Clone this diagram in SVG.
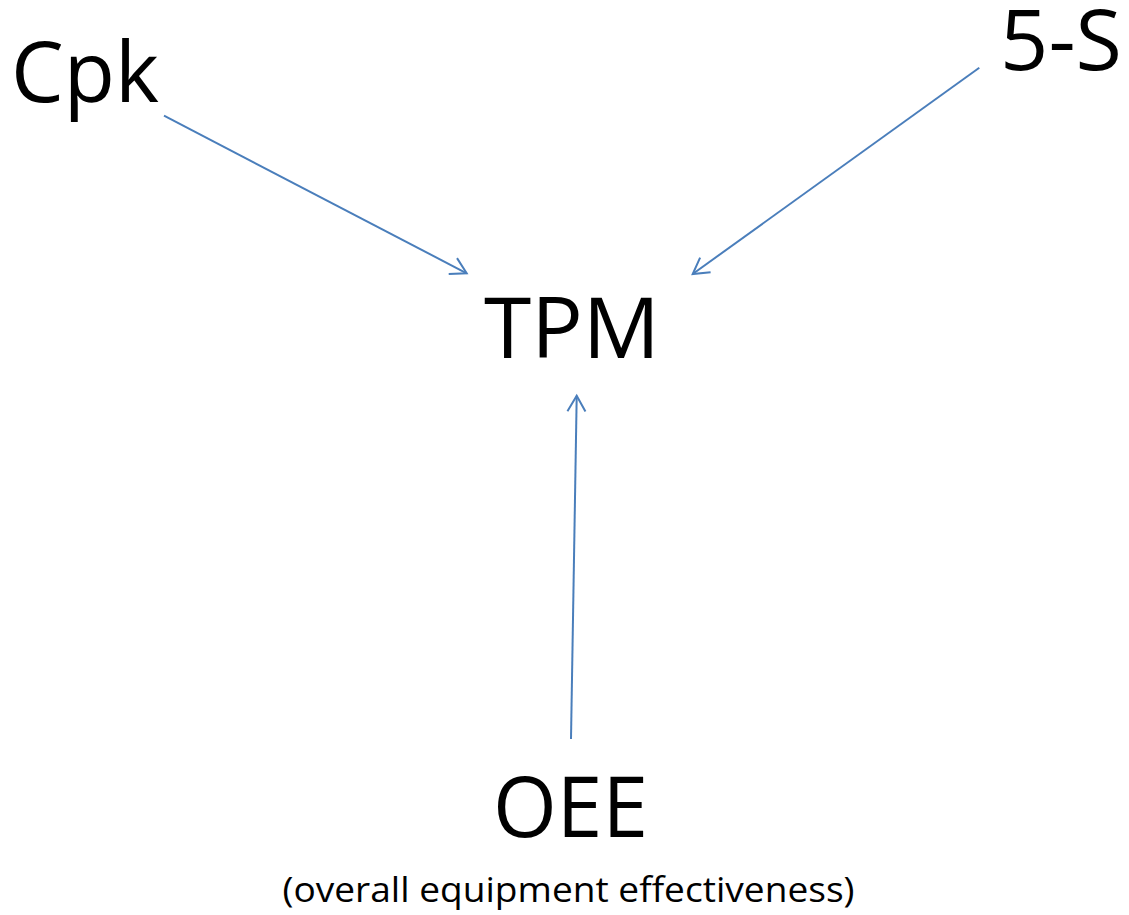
<svg xmlns="http://www.w3.org/2000/svg" width="1129" height="915" viewBox="0 0 1129 915">
<style>
.big{font-family:"Open Sans","Noto Sans","Liberation Sans",sans-serif;font-size:84px;fill:#000;text-anchor:middle}
.sub{font-family:"Open Sans","Noto Sans","Liberation Sans",sans-serif;font-size:34px;fill:#000;text-anchor:middle}
.conn{stroke:#4a7ebb;stroke-width:2;fill:none;marker-end:url(#arr)}
</style>
<defs>
<marker id="arr" markerUnits="userSpaceOnUse" viewBox="-20 -12 24 24" markerWidth="24" markerHeight="24" refX="0" refY="0" orient="auto">
<path d="M -15.6 -9 L 0 0 L -15.6 9" stroke="#4a7ebb" stroke-width="2" fill="none" stroke-linejoin="miter"/>
</marker>
</defs>
<rect width="1129" height="915" fill="#fff"/>
<g id="connectors">
<line class="conn" x1="164" y1="115.7" x2="466.7" y2="273.3"/>
<line class="conn" x1="979.3" y1="67.7" x2="692.7" y2="274"/>
<line class="conn" x1="571" y1="739" x2="576.7" y2="395.7"/>
</g>
<g id="cpk"><text class="big" x="85" y="102" textLength="148" lengthAdjust="spacingAndGlyphs">Cpk</text></g>
<g id="fives"><text class="big" x="1061" y="70" textLength="122" lengthAdjust="spacingAndGlyphs">5-S</text></g>
<g id="tpm"><text class="big" x="572" y="358" textLength="176" lengthAdjust="spacingAndGlyphs">TPM</text></g>
<g id="oee">
<text class="big" x="570.5" y="837" textLength="155" lengthAdjust="spacingAndGlyphs">OEE</text>
<text class="sub" x="568.5" y="902" textLength="572" lengthAdjust="spacingAndGlyphs">(overall equipment effectiveness)</text>
</g>
</svg>
